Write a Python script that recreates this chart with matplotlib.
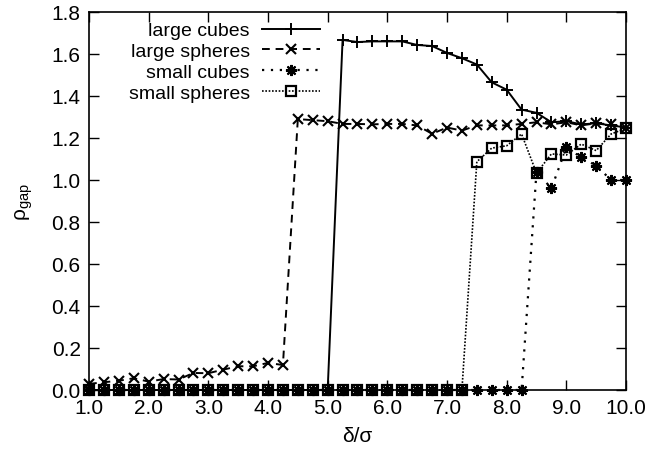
import numpy as np
import matplotlib
matplotlib.use("Agg")
import matplotlib.pyplot as plt

plt.rcParams['font.family'] = ['Liberation Sans', 'DejaVu Sans']
plt.rcParams['mathtext.fontset'] = 'custom'
plt.rcParams['mathtext.rm'] = 'Liberation Sans'

# delta/sigma grid
x = np.arange(1.0, 10.01, 0.25)

large_cubes = [0.0] * 17 + [1.667, 1.657, 1.66, 1.66, 1.66, 1.643, 1.638, 1.605, 1.58, 1.55,
                            1.465, 1.43, 1.335, 1.32, 1.275, 1.28, 1.265, 1.27, 1.26, 1.25]
large_spheres = [0.029, 0.037, 0.044, 0.056, 0.04, 0.052, 0.05, 0.081, 0.08, 0.097, 0.113,
                 0.113, 0.129, 0.119, 1.29, 1.285, 1.28, 1.267, 1.267, 1.265, 1.267, 1.267,
                 1.26, 1.22, 1.25, 1.235, 1.26, 1.26, 1.26, 1.267, 1.275, 1.265, 1.275,
                 1.26, 1.27, 1.265, 1.25]
small_cubes = [0.0] * 30 + [1.04, 0.96, 1.155, 1.108, 1.068, 1.0, 1.0]
small_spheres = [0.0] * 26 + [1.087, 1.152, 1.163, 1.219, 1.033, 1.124, 1.119, 1.171,
                              1.14, 1.219, 1.246]

fig, ax = plt.subplots(figsize=(6.64, 4.52), dpi=100)
fig.subplots_adjust(left=89 / 664, right=626 / 664, top=1 - 13 / 452, bottom=1 - 391 / 452)

ax.plot(x, large_cubes, color='black', lw=1.4, ls='-', marker='+', ms=9, mew=1.4,
        label='large cubes', clip_on=False)
ax.plot(x, large_spheres, color='black', lw=1.4, ls=(0, (4, 3)), marker='x', ms=7, mew=1.5,
        label='large spheres', clip_on=False)
ax.plot(x, small_cubes, color='black', lw=1.6, ls=(0, (1, 3)), marker=(8, 2, 0), ms=8,
        mew=1.5, label='small cubes', clip_on=False)
ax.plot(x, small_spheres, color='black', lw=1.2, ls=(0, (1, 1)), marker='s', ms=6.5, mew=1.6,
        mfc='none', label='small spheres', clip_on=False)

ax.set_xlim(1.0, 10.0)
ax.set_ylim(0.0, 1.8)
ax.set_xticks(np.arange(1, 11, 1))
ax.set_xticklabels(['%.1f' % v for v in np.arange(1, 11, 1)])
ax.set_yticks(np.arange(0, 1.81, 0.2))
ax.set_yticklabels(['%.1f' % v for v in np.arange(0, 1.81, 0.2)])
ax.tick_params(direction='in', top=True, right=True, length=7, width=1, labelsize=15, pad=6)
for s in ax.spines.values():
    s.set_linewidth(1.2)

ax.set_xlabel('δ/σ', fontsize=15, labelpad=6)
ax.set_ylabel(r'ρ$_{\mathrm{gap}}$', fontsize=15, labelpad=12)

ax.legend(loc='upper right', bbox_to_anchor=(0.448, 1.0), frameon=False, markerfirst=False,
          numpoints=1, handlelength=3.0, labelspacing=0.17, fontsize=14, borderaxespad=0.1,
          handletextpad=0.6)

fig.savefig('out.png', dpi=100)
